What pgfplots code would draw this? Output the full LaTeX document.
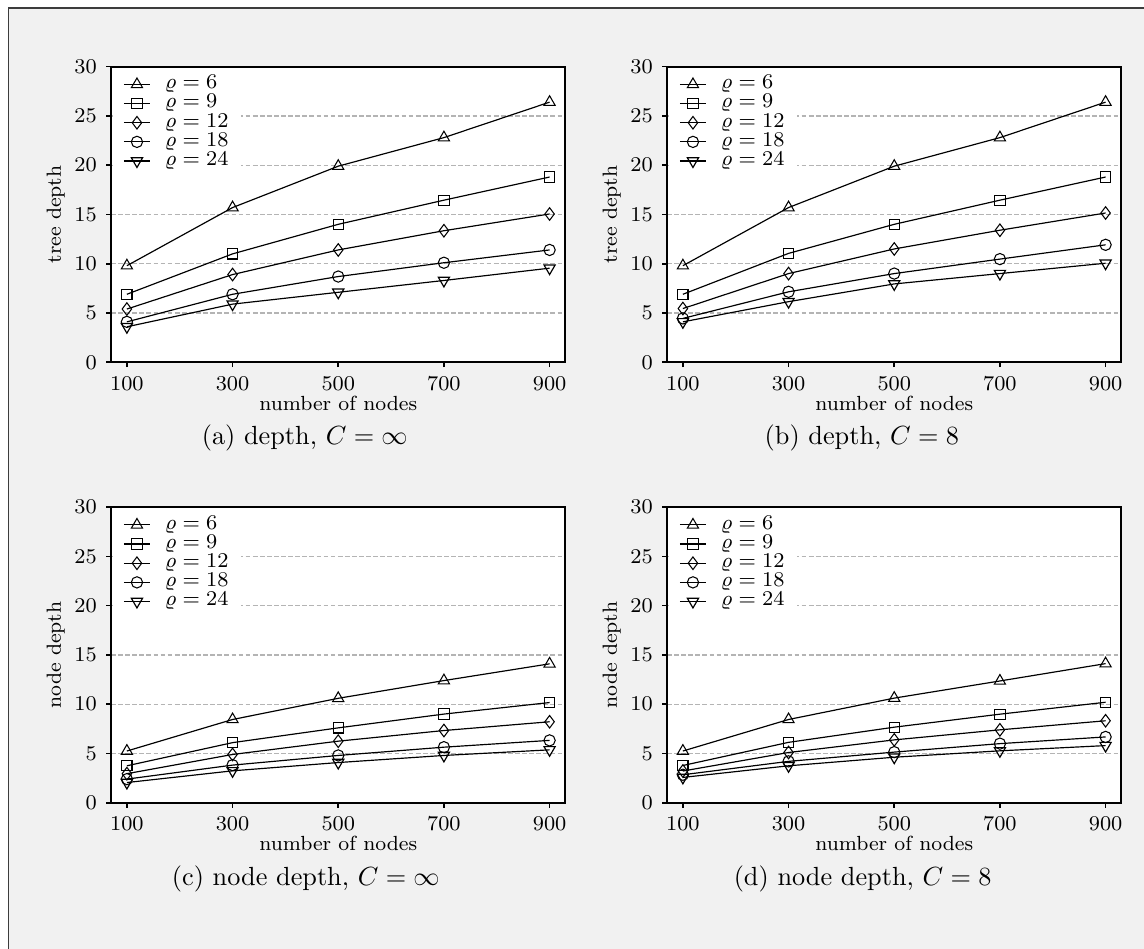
\documentclass[border=0pt]{standalone}
\usepackage{pgfplots}
\pgfplotsset{compat=1.18}
\usepackage{pgfplotstable}

\definecolor{bggray}{RGB}{241,241,241}
\definecolor{framegray}{RGB}{60,60,60}
\definecolor{gridgray}{RGB}{180,180,180}

% tree depth, C = infinity
\pgfplotstableread{
n   r6    r9    r12   r18   r24
100 9.8   6.9   5.4   4.1   3.6
300 15.7  11.0  8.9   6.9   5.9
500 19.9  14.0  11.4  8.7   7.1
700 22.8  16.45 13.35 10.1  8.3
900 26.4  18.8  15.05 11.4  9.55
}\depthinf
% tree depth, C = 8
\pgfplotstableread{
n   r6    r9    r12   r18   r24
100 9.8   6.9   5.45  4.45  4.1
300 15.7  11.05 9.0   7.15  6.15
500 19.9  14.0  11.5  9.0   7.95
700 22.8  16.45 13.4  10.47 9.0
900 26.4  18.8  15.15 11.92 10.05
}\deptheight
% node depth, C = infinity
\pgfplotstableread{
n   r6    r9    r12   r18   r24
100 5.25  3.75  2.95  2.4   2.05
300 8.45  6.1   4.9   3.82  3.24
500 10.6  7.6   6.25  4.8   4.08
700 12.4  9.0   7.33  5.64  4.8
900 14.1  10.17 8.22  6.33  5.37
}\nodeinf
% node depth, C = 8
\pgfplotstableread{
n   r6    r9    r12   r18   r24
100 5.25  3.78  3.22  2.84  2.57
300 8.45  6.13  5.1   4.2   3.75
500 10.62 7.67  6.38  5.14  4.62
700 12.36 8.99  7.4   6.0   5.27
900 14.12 10.2  8.32  6.68  5.8
}\nodeeight

\pgfplotsset{
  legend image code/.code={\draw[mark repeat=2,mark phase=2,#1] plot coordinates {(0pt,0pt) (4.95pt,0pt) (9.9pt,0pt)};},
  ser/.style={black, line width=0.45pt, mark size=2.45pt, mark options={fill=white, solid, line width=0.4pt}},
  r6/.style={ser, mark=triangle},
  r9/.style={ser, mark=square, mark size=1.95pt},
  r12/.style={ser, mark=diamond, mark size=2.4pt},
  r18/.style={ser, mark=o, mark size=2.15pt},
  r24/.style={ser, mark=triangle, mark options={rotate=180}},
  panel/.style={
    scale only axis, width=173.1pt, height=112.6pt,
    xmin=70, xmax=930, ymin=0, ymax=30,
    xtick={100,300,500,700,900}, ytick={0,5,...,30},
    tick align=outside, xtick pos=bottom, ytick pos=left,
    major tick length=1.9pt,
    every tick/.style={black, line width=0.6pt},
    axis line style={line width=0.8pt},
    axis background/.style={fill=white},
    ymajorgrids,
    major grid style={gridgray, line width=0.5pt, dash pattern=on 1.8pt off 0.9pt},
    tick label style={font=\fontsize{7.6}{9}\selectfont},
    xlabel={number of nodes},
    every axis x label/.style={at={(axis description cs:0.5,0)}, anchor=center, yshift=-15.6pt, font=\fontsize{7.8}{9}\selectfont},
    every axis y label/.style={at={(axis description cs:0,0.5)}, anchor=center, xshift=-21.1pt, rotate=90, font=\fontsize{7.8}{9}\selectfont},
    legend style={at={(0,1)}, anchor=north west, xshift=0.5pt, yshift=-1.3pt,
      draw=none, fill=white, inner xsep=4pt, inner ysep=1.6pt,
      font=\fontsize{8}{9}\selectfont,
      nodes={inner sep=0pt, text height=5.3pt, text depth=2pt, text width=25pt, align=left},
      row sep=0pt, /tikz/every odd column/.append style={column sep=5.5pt}},
  }
}

\begin{document}
\begin{tikzpicture}
\useasboundingbox (0,0) rectangle (435.8pt,361.5pt);
\fill[white] (0,0) rectangle (435.8pt,361.5pt);
\fill[bggray] (3.2pt,0) rectangle (435.8pt,358.45pt);
\draw[framegray, line width=0.6pt] (3.2pt,0) -- (3.2pt,358.45pt) -- (435.8pt,358.45pt);

\begin{axis}[panel, at={(42.3pt,223.5pt)}, anchor=south west, ylabel={tree depth}]
\addplot[r6] table[x=n, y=r6] {\depthinf};
\addplot[r9] table[x=n, y=r9] {\depthinf};
\addplot[r12] table[x=n, y=r12] {\depthinf};
\addplot[r18] table[x=n, y=r18] {\depthinf};
\addplot[r24] table[x=n, y=r24] {\depthinf};
\legend{$\varrho = 6$, $\varrho = 9$, $\varrho = 12$, $\varrho = 18$, $\varrho = 24$}
\end{axis}

\begin{axis}[panel, at={(254.1pt,223.5pt)}, anchor=south west, ylabel={tree depth}]
\addplot[r6] table[x=n, y=r6] {\deptheight};
\addplot[r9] table[x=n, y=r9] {\deptheight};
\addplot[r12] table[x=n, y=r12] {\deptheight};
\addplot[r18] table[x=n, y=r18] {\deptheight};
\addplot[r24] table[x=n, y=r24] {\deptheight};
\legend{$\varrho = 6$, $\varrho = 9$, $\varrho = 12$, $\varrho = 18$, $\varrho = 24$}
\end{axis}

\begin{axis}[panel, at={(42.3pt,55.7pt)}, anchor=south west, ylabel={node depth}]
\addplot[r6] table[x=n, y=r6] {\nodeinf};
\addplot[r9] table[x=n, y=r9] {\nodeinf};
\addplot[r12] table[x=n, y=r12] {\nodeinf};
\addplot[r18] table[x=n, y=r18] {\nodeinf};
\addplot[r24] table[x=n, y=r24] {\nodeinf};
\legend{$\varrho = 6$, $\varrho = 9$, $\varrho = 12$, $\varrho = 18$, $\varrho = 24$}
\end{axis}

\begin{axis}[panel, at={(254.1pt,55.7pt)}, anchor=south west, ylabel={node depth}]
\addplot[r6] table[x=n, y=r6] {\nodeeight};
\addplot[r9] table[x=n, y=r9] {\nodeeight};
\addplot[r12] table[x=n, y=r12] {\nodeeight};
\addplot[r18] table[x=n, y=r18] {\nodeeight};
\addplot[r24] table[x=n, y=r24] {\nodeeight};
\legend{$\varrho = 6$, $\varrho = 9$, $\varrho = 12$, $\varrho = 18$, $\varrho = 24$}
\end{axis}

\node[anchor=base, font=\fontsize{10}{12}\selectfont] at (116.1pt,192pt) {(a) depth, $C = \infty$};
\node[anchor=base, font=\fontsize{10}{12}\selectfont] at (328.3pt,192pt) {(b) depth, $C = 8$};
\node[anchor=base, font=\fontsize{10}{12}\selectfont] at (116.5pt,24pt) {(c) node depth, $C = \infty$};
\node[anchor=base, font=\fontsize{10}{12}\selectfont] at (328.6pt,24pt) {(d) node depth, $C = 8$};
\end{tikzpicture}
\end{document}
